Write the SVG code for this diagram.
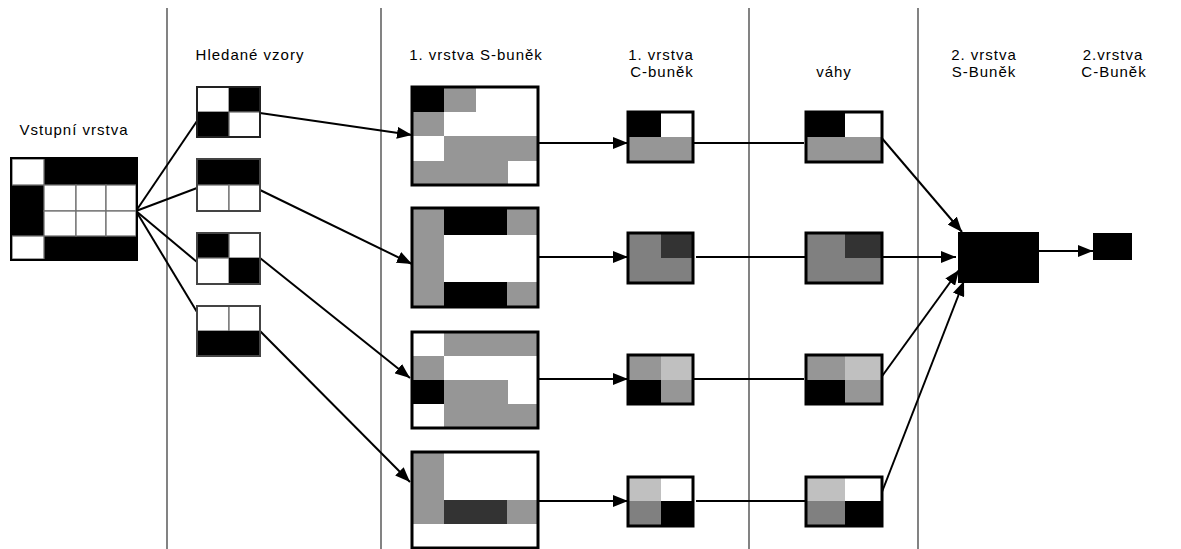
<svg xmlns="http://www.w3.org/2000/svg" width="1181" height="549" viewBox="0 0 1181 549">
  <style>
    text { font-family: "Liberation Sans", Arial, sans-serif; font-size: 15px; fill: #000; letter-spacing: 1px; }
    .divider { stroke: #404040; stroke-width: 1.3; }
    .grid { stroke: #707070; stroke-width: 1.3; }
    .frame { fill: none; stroke: #000; stroke-width: 3; }
    .wire { stroke: #000; stroke-width: 2; fill: none; }
    .k { fill: #000; }
    .w { fill: #fff; }
    .g { fill: #969696; }
    .m { fill: #808080; }
    .d { fill: #333; }
    .l { fill: #c0c0c0; }
  </style>
  <defs>
    <marker id="arrow" markerUnits="userSpaceOnUse" markerWidth="16" markerHeight="12" refX="15" refY="6" orient="auto">
      <path d="M0,0 L15,6 L0,12 Z" fill="#000"/>
    </marker>
  </defs>
  <rect width="1181" height="549" fill="#fff"/>

  <!-- column dividers -->
  <g id="dividers">
    <line class="divider" x1="167" y1="8" x2="167" y2="549"/>
    <line class="divider" x1="381" y1="8" x2="381" y2="549"/>
    <line class="divider" x1="749" y1="8" x2="749" y2="549"/>
    <line class="divider" x1="918" y1="8" x2="918" y2="549"/>
  </g>

  <!-- column headings -->
  <g id="labels" text-anchor="middle">
    <text x="74" y="135">Vstupní vrstva</text>
    <text x="250" y="60">Hledané vzory</text>
    <text x="476" y="60">1. vrstva S-buněk</text>
    <text x="661" y="60">1. vrstva</text>
    <text x="662" y="77">C-buněk</text>
    <text x="834" y="77">váhy</text>
    <text x="984" y="60">2. vrstva</text>
    <text x="984" y="77">S-Buněk</text>
    <text x="1113" y="60">2.vrstva</text>
    <text x="1114" y="77">C-Buněk</text>
  </g>

  <!-- connectors -->
  <g id="connectors">
    <!-- input fan-out -->
    <line class="wire" x1="136" y1="211" x2="197" y2="121"/>
    <line class="wire" x1="136" y1="211" x2="197" y2="188"/>
    <line class="wire" x1="136" y1="211" x2="197" y2="262"/>
    <line class="wire" x1="136" y1="211" x2="197" y2="312"/>
    <!-- patterns to first S layer -->
    <line class="wire" x1="260" y1="113" x2="412" y2="135" marker-end="url(#arrow)"/>
    <line class="wire" x1="260" y1="190" x2="412" y2="264" marker-end="url(#arrow)"/>
    <line class="wire" x1="260" y1="258" x2="410" y2="378" marker-end="url(#arrow)"/>
    <line class="wire" x1="260" y1="331" x2="410" y2="482" marker-end="url(#arrow)"/>
    <!-- S layer to C layer -->
    <line class="wire" x1="538" y1="143" x2="628" y2="143" marker-end="url(#arrow)"/>
    <line class="wire" x1="538" y1="257" x2="628" y2="257" marker-end="url(#arrow)"/>
    <line class="wire" x1="538" y1="379" x2="628" y2="379" marker-end="url(#arrow)"/>
    <line class="wire" x1="538" y1="501" x2="628" y2="501" marker-end="url(#arrow)"/>
    <!-- C layer to weights -->
    <line class="wire" x1="688" y1="143" x2="804" y2="143"/>
    <line class="wire" x1="696" y1="257" x2="812" y2="257"/>
    <line class="wire" x1="688" y1="379" x2="804" y2="379"/>
    <line class="wire" x1="696" y1="501" x2="812" y2="501"/>
    <!-- weights to second S layer -->
    <line class="wire" x1="880" y1="136" x2="962" y2="232" marker-end="url(#arrow)"/>
    <line class="wire" x1="880" y1="257" x2="956" y2="257" marker-end="url(#arrow)"/>
    <line class="wire" x1="880" y1="379" x2="959" y2="270" marker-end="url(#arrow)"/>
    <line class="wire" x1="880" y1="497" x2="964" y2="281" marker-end="url(#arrow)"/>
    <!-- second S layer to second C layer -->
    <line class="wire" x1="1039" y1="251" x2="1093" y2="251" marker-end="url(#arrow)"/>
  </g>

  <!-- input layer 4x4 -->
  <g id="input">
    <rect class="k" x="11" y="158" width="126" height="102"/>
    <rect class="w grid" x="12" y="159" width="32" height="26"/>
    <rect class="w grid" x="44" y="185" width="32" height="26"/>
    <rect class="w grid" x="76" y="185" width="30" height="26"/>
    <rect class="w grid" x="106" y="185" width="30" height="26"/>
    <rect class="w grid" x="44" y="211" width="32" height="25"/>
    <rect class="w grid" x="76" y="211" width="30" height="25"/>
    <rect class="w grid" x="106" y="211" width="30" height="25"/>
    <rect class="w grid" x="12" y="236" width="32" height="23"/>
    <rect x="11" y="158" width="126" height="102" fill="none" stroke="#000" stroke-width="2"/>
  </g>

  <!-- searched patterns 2x2 -->
  <g id="pattern1">
    <rect class="w grid" x="197" y="87" width="32" height="25"/>
    <rect class="k" x="229" y="87" width="31" height="25"/>
    <rect class="k" x="197" y="112" width="32" height="25"/>
    <rect class="w grid" x="229" y="112" width="31" height="25"/>
    <rect x="197" y="87" width="63" height="50" fill="none" stroke="#222" stroke-width="2"/>
  </g>
  <g id="pattern2">
    <rect class="k" x="197" y="159" width="63" height="26"/>
    <rect class="w grid" x="197" y="185" width="32" height="26"/>
    <rect class="w grid" x="229" y="185" width="31" height="26"/>
    <rect x="197" y="159" width="63" height="52" fill="none" stroke="#444" stroke-width="2"/>
  </g>
  <g id="pattern3">
    <rect class="k" x="197" y="233" width="32" height="25"/>
    <rect class="w grid" x="229" y="233" width="31" height="25"/>
    <rect class="w grid" x="197" y="258" width="32" height="26"/>
    <rect class="k" x="229" y="258" width="31" height="26"/>
    <rect x="197" y="233" width="63" height="51" fill="none" stroke="#444" stroke-width="2"/>
  </g>
  <g id="pattern4">
    <rect class="w grid" x="197" y="306" width="32" height="25"/>
    <rect class="w grid" x="229" y="306" width="31" height="25"/>
    <rect class="k" x="197" y="331" width="63" height="25"/>
    <rect x="197" y="306" width="63" height="50" fill="none" stroke="#444" stroke-width="2"/>
  </g>

  <!-- first S layer, 4x4 cells -->
  <g id="s1-cell1">
    <rect class="w" x="412" y="87" width="126" height="98"/>
    <rect class="k" x="412" y="87" width="32" height="25"/>
    <rect class="g" x="444" y="87" width="32" height="25"/>
    <rect class="g" x="412" y="112" width="32" height="24"/>
    <rect class="g" x="444" y="136" width="94" height="25"/>
    <rect class="g" x="412" y="161" width="96" height="24"/>
    <rect class="frame" x="412" y="87" width="126" height="98"/>
  </g>
  <g id="s1-cell2">
    <rect class="w" x="412" y="208" width="126" height="99"/>
    <rect class="g" x="412" y="208" width="32" height="99"/>
    <rect class="k" x="444" y="208" width="63" height="27"/>
    <rect class="g" x="507" y="208" width="31" height="27"/>
    <rect class="k" x="444" y="282" width="63" height="25"/>
    <rect class="g" x="507" y="282" width="31" height="25"/>
    <rect class="frame" x="412" y="208" width="126" height="99"/>
  </g>
  <g id="s1-cell3">
    <rect class="w" x="412" y="332" width="126" height="96"/>
    <rect class="g" x="444" y="332" width="94" height="24"/>
    <rect class="g" x="412" y="356" width="32" height="24"/>
    <rect class="k" x="412" y="380" width="32" height="24"/>
    <rect class="g" x="444" y="380" width="64" height="24"/>
    <rect class="g" x="444" y="404" width="94" height="24"/>
    <rect class="frame" x="412" y="332" width="126" height="96"/>
  </g>
  <g id="s1-cell4">
    <rect class="w" x="412" y="452" width="126" height="96"/>
    <rect class="g" x="412" y="452" width="32" height="72"/>
    <rect class="d" x="444" y="500" width="63" height="24"/>
    <rect class="g" x="507" y="500" width="31" height="24"/>
    <rect class="frame" x="412" y="452" width="126" height="96"/>
  </g>

  <!-- first C layer, 2x2 -->
  <g id="c1-cell1">
    <rect class="k" x="628" y="112" width="33" height="25"/>
    <rect class="w" x="661" y="112" width="32" height="25"/>
    <rect class="g" x="628" y="137" width="65" height="25"/>
    <rect class="frame" x="628" y="112" width="65" height="50"/>
  </g>
  <g id="c1-cell2">
    <rect class="m" x="628" y="233" width="65" height="50"/>
    <rect class="d" x="661" y="233" width="32" height="25"/>
    <rect class="frame" x="628" y="233" width="65" height="50"/>
  </g>
  <g id="c1-cell3">
    <rect class="g" x="628" y="355" width="33" height="25"/>
    <rect class="l" x="661" y="355" width="32" height="25"/>
    <rect class="k" x="628" y="380" width="33" height="24"/>
    <rect class="g" x="661" y="380" width="32" height="24"/>
    <rect class="frame" x="628" y="355" width="65" height="49"/>
  </g>
  <g id="c1-cell4">
    <rect class="l" x="628" y="477" width="33" height="24"/>
    <rect class="w" x="661" y="477" width="32" height="24"/>
    <rect class="m" x="628" y="501" width="33" height="25"/>
    <rect class="k" x="661" y="501" width="32" height="25"/>
    <rect class="frame" x="628" y="477" width="65" height="49"/>
  </g>

  <!-- weights, 2x2 -->
  <g id="weight1">
    <rect class="k" x="806" y="112" width="39" height="25"/>
    <rect class="w" x="845" y="112" width="37" height="25"/>
    <rect class="g" x="806" y="137" width="76" height="25"/>
    <rect class="frame" x="806" y="112" width="76" height="50"/>
  </g>
  <g id="weight2">
    <rect class="m" x="806" y="233" width="76" height="50"/>
    <rect class="d" x="845" y="233" width="37" height="25"/>
    <rect class="frame" x="806" y="233" width="76" height="50"/>
  </g>
  <g id="weight3">
    <rect class="g" x="806" y="355" width="39" height="25"/>
    <rect class="l" x="845" y="355" width="37" height="25"/>
    <rect class="k" x="806" y="380" width="39" height="24"/>
    <rect class="g" x="845" y="380" width="37" height="24"/>
    <rect class="frame" x="806" y="355" width="76" height="49"/>
  </g>
  <g id="weight4">
    <rect class="l" x="806" y="477" width="39" height="24"/>
    <rect class="w" x="845" y="477" width="37" height="24"/>
    <rect class="m" x="806" y="501" width="39" height="25"/>
    <rect class="k" x="845" y="501" width="37" height="25"/>
    <rect class="frame" x="806" y="477" width="76" height="49"/>
  </g>

  <!-- second S and C layers -->
  <g id="s2-cell">
    <rect class="k" x="958" y="232" width="81" height="51"/>
  </g>
  <g id="c2-cell">
    <rect class="k" x="1093" y="233" width="39" height="27"/>
  </g>
</svg>
